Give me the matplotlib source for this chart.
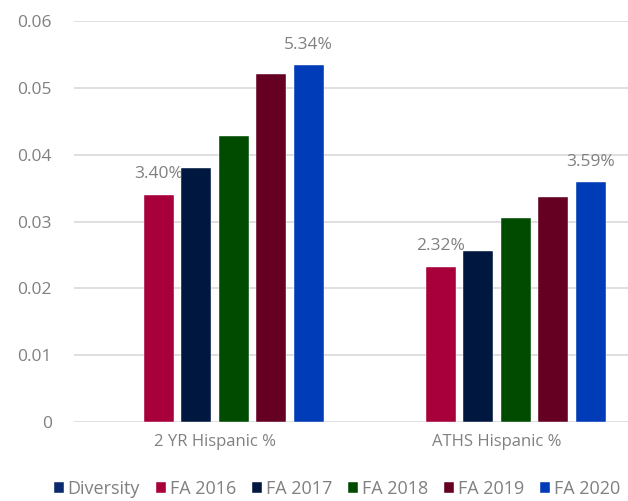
import matplotlib.pyplot as plt
import numpy as np

plt.rcParams['font.family'] = ['Open Sans', 'DejaVu Sans']

categories = ['2 YR Hispanic %', 'ATHS Hispanic %']
series = ['Diversity', 'FA 2016', 'FA 2017', 'FA 2018', 'FA 2019', 'FA 2020']
values = {
    'Diversity': [np.nan, np.nan],
    'FA 2016': [0.0340, 0.0232],
    'FA 2017': [0.0380, 0.0256],
    'FA 2018': [0.0428, 0.0305],
    'FA 2019': [0.0520, 0.0336],
    'FA 2020': [0.0534, 0.0359],
}
# only first and last real series get labels
labelled = ['FA 2016', 'FA 2020']
colors = ['#0B2A6E', '#A8003B', '#00173F', '#004B00', '#660022', '#003BB8']

gray = '#808080'
fig = plt.figure(figsize=(6.28, 5.01), dpi=100)
ax = fig.add_axes([74 / 628, (501 - 422) / 501, 564 / 628, 401 / 501])

x = np.arange(len(categories))
step = 0.133
width = 0.106
for i, (name, c) in enumerate(zip(series, colors)):
    pos = x + (i - 2.5) * step
    bars = ax.bar(pos, values[name], width, color=c, label=name,
                  edgecolor='white', linewidth=0.3, zorder=3)
    if name in labelled:
        for xb, v in zip(pos, values[name]):
            ax.annotate(f'{v * 100:.2f}%', (xb, v), xytext=(0, 9),
                        textcoords='offset points', ha='center', va='bottom',
                        fontsize=12.5, color=gray)

ax.set_xlim(-0.5, 1.5)
ax.set_ylim(0, 0.06)
ax.set_yticks(np.arange(0, 0.061, 0.01))
ax.set_yticklabels(['0'] + [f'{t:.2f}' for t in np.arange(0.01, 0.061, 0.01)])
ax.set_xticks(x)
ax.set_xticklabels(categories)
ax.tick_params(axis='both', length=0, labelsize=12.5, colors=gray)
ax.tick_params(axis='x', labelsize=12)
ax.tick_params(axis='y', pad=16)
ax.tick_params(axis='x', pad=9)
ax.grid(axis='y', color='#D9D9D9', linewidth=1.2, zorder=0)
for s in ax.spines.values():
    s.set_visible(False)

fig.legend(loc='center', bbox_to_anchor=(337 / 628, 1 - 489 / 501), ncol=6,
           frameon=False, fontsize=13, labelcolor=gray, handlelength=0.55,
           handleheight=0.55, handletextpad=0.2, columnspacing=0.9)

plt.savefig('out.png', dpi=100)
plt.close()
